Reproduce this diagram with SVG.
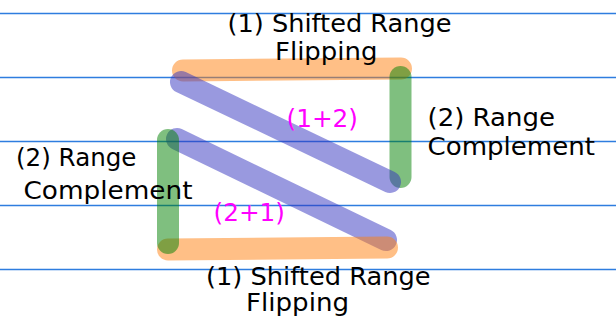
<svg xmlns="http://www.w3.org/2000/svg" width="616" height="320" viewBox="0 0 616 320">
<style>
.band{fill:none;stroke-width:22;stroke-linecap:round;stroke-opacity:0.5}
.o{stroke:#ff7f0e}
.g{stroke:#008000}
.b{stroke:#3333c0}
.lbl{font-family:"DejaVu Sans","Liberation Sans",sans-serif;font-size:24px;fill:#000000}
.mix{font-family:"DejaVu Sans","Liberation Sans",sans-serif;font-size:24px;fill:#ff00ff}
</style>
<rect width="616" height="320" fill="#ffffff"/>
<g id="grid" stroke="#2e7ddf" stroke-width="1.3" fill="none">
<path d="M0 13.5H616"/>
<path d="M0 77.5H616"/>
<path d="M0 141.5H616"/>
<path d="M0 205.5H616"/>
<path d="M0 269.5H616"/>
</g>
<g id="connectors">
<line id="flip-top" class="band o" x1="183" y1="70.5" x2="401" y2="68.5"/>
<line id="comp-right" class="band g" x1="400.5" y1="77" x2="400.5" y2="177"/>
<line id="diag-top" class="band b" x1="181" y1="82" x2="390" y2="182"/>
<line id="diag-bottom" class="band b" x1="177" y1="139" x2="386" y2="240"/>
<line id="flip-bottom" class="band o" x1="168" y1="249.5" x2="387" y2="247.5"/>
<line id="comp-left" class="band g" x1="168" y1="140" x2="168" y2="243"/>
</g>
<g id="label-top">
<text class="lbl" x="227.5" y="31.5" textLength="224" lengthAdjust="spacingAndGlyphs">(1) Shifted Range</text>
<text class="lbl" x="275" y="59.5" textLength="102.5" lengthAdjust="spacingAndGlyphs">Flipping</text>
</g>
<g id="label-right">
<text class="lbl" x="427.5" y="125.5" textLength="127.5" lengthAdjust="spacingAndGlyphs">(2) Range</text>
<text class="lbl" x="427.5" y="155" textLength="167.5" lengthAdjust="spacingAndGlyphs">Complement</text>
</g>
<g id="label-left">
<text class="lbl" x="16" y="165.5" textLength="120.5" lengthAdjust="spacingAndGlyphs">(2) Range</text>
<text class="lbl" x="23.5" y="199" textLength="169" lengthAdjust="spacingAndGlyphs">Complement</text>
</g>
<g id="label-bottom">
<text class="lbl" x="206" y="284.5" textLength="224.5" lengthAdjust="spacingAndGlyphs">(1) Shifted Range</text>
<text class="lbl" x="246" y="311" textLength="103" lengthAdjust="spacingAndGlyphs">Flipping</text>
</g>
<g id="label-12">
<text class="mix" x="286.5" y="127" textLength="71.5" lengthAdjust="spacingAndGlyphs">(1+2)</text>
</g>
<g id="label-21">
<text class="mix" x="213.5" y="221" textLength="71.5" lengthAdjust="spacingAndGlyphs">(2+1)</text>
</g>
</svg>
